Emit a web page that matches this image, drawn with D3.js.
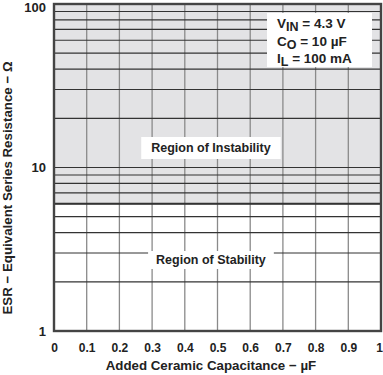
<!DOCTYPE html>
<html>
<head>
<meta charset="utf-8">
<script src="https://cdn.jsdelivr.net/npm/d3@7"></script>
<style>
body{margin:0;background:#fff}
svg text{font-family:"Liberation Sans",Arial,sans-serif;font-weight:bold;fill:#222}
</style>
</head>
<body>
<svg id="chart"></svg>
<script>
// values
let capTicks=[0,0.1,0.2,0.3,0.4,0.5,0.6,0.7,0.8,0.9,1]
let esrTicks=[1,10,100]
let esrGrid=[2,3,4,5,6,7,8,9,20,30,40,50,60,70,80,90]
let boundaryCap=[0,1]
let boundaryEsr=[6,6]
let conditions=[["V","IN"," = 4.3 V"],["C","O"," = 10 µF"],["I","L"," = 100 mA"]]

let width=383
let height=375
let padLeft=54, padRight=381, padTop=4, padBottom=331

let svg=d3.select('#chart').attr('width',width).attr('height',height)

let xScale=d3.scaleLinear().domain([0,1]).range([padLeft,padRight])
let yScale=d3.scaleLog().domain([1,100]).range([padBottom,padTop])

// shaded region of instability
let boundary=boundaryCap.map((c,i)=>[c,boundaryEsr[i]])
svg.append('path')
    .datum(boundary)
    .attr('fill','#e3e3e5')
    .attr('d',d3.area().x(d=>xScale(d[0])).y0(yScale(100)).y1(d=>yScale(d[1])))

// vertical grid
svg.append('g')
    .selectAll('line')
    .data(capTicks.slice(1,-1))
    .enter()
    .append('line')
    .attr('x1',d=>xScale(d)).attr('x2',d=>xScale(d))
    .attr('y1',padTop).attr('y2',padBottom)
    .attr('stroke','#8a8a8a').attr('stroke-width',1.3)

// horizontal grid
svg.append('g')
    .selectAll('line')
    .data(esrGrid.concat([10]))
    .enter()
    .append('line')
    .attr('x1',padLeft).attr('x2',padRight)
    .attr('y1',d=>yScale(d)).attr('y2',d=>yScale(d))
    .attr('stroke','#333').attr('stroke-width',1.2)

// boundary line
svg.append('path')
    .datum(boundary)
    .attr('fill','none')
    .attr('stroke','#333').attr('stroke-width',2.2)
    .attr('d',d3.line().x(d=>xScale(d[0])).y(d=>yScale(d[1])))

// frame
svg.append('rect')
    .attr('x',padLeft).attr('y',padTop)
    .attr('width',padRight-padLeft).attr('height',padBottom-padTop)
    .attr('fill','none').attr('stroke','#444').attr('stroke-width',2.4)

// axes labels
let xAxis=d3.axisBottom(xScale).tickValues(capTicks).tickSize(0).tickPadding(12)
    .tickFormat(d=>d===0||d===1?d3.format('d')(d):d3.format('.1f')(d))
let gx=svg.append('g').attr('transform','translate(0,'+padBottom+')').call(xAxis)
gx.select('.domain').remove()
gx.selectAll('text').style('font-size','12px').attr('fill','#222')
gx.selectAll('.tick').filter(d=>d===1).select('text').attr('dx',-2)

let yAxis=d3.axisLeft(yScale).tickValues(esrTicks).tickSize(0).tickPadding(8)
    .tickFormat(d3.format('d'))
let gy=svg.append('g').attr('transform','translate('+padLeft+',0)').call(yAxis)
gy.select('.domain').remove()
gy.selectAll('text').style('font-size','13px').attr('fill','#222')
gy.selectAll('.tick').filter(d=>d===100).select('text').attr('y',3)

// region labels
let addBoxLabel=(txt,cx,cy,padX,h)=>{
    let t=svg.append('text')
        .attr('x',cx).attr('y',cy)
        .attr('text-anchor','middle')
        .attr('dominant-baseline','central')
        .style('font-size','12.5px')
        .text(txt)
    let w=t.node().getComputedTextLength()
    svg.insert('rect',()=>t.node())
        .attr('x',cx-w/2-padX).attr('y',cy-h/2)
        .attr('width',w+2*padX).attr('height',h)
        .attr('fill','#fff')
}
addBoxLabel('Region of Instability',xScale(0.48),148,10,22)
addBoxLabel('Region of Stability',xScale(0.48),260,8,18)

// conditions box
let box=svg.append('g')
box.append('rect')
    .attr('x',267).attr('y',13)
    .attr('width',105).attr('height',54)
    .attr('fill','#fff')
conditions.forEach((c,i)=>{
    let t=box.append('text')
        .attr('x',277).attr('y',28+i*17.5)
        .style('font-size','13.5px')
    t.append('tspan').text(c[0])
    t.append('tspan').attr('dy',3).style('font-size','12.5px').text(c[1])
    t.append('tspan').attr('dy',-3).text(c[2])
})

// axis titles
svg.append('text')
    .attr('x',xScale(0.48)).attr('y',370)
    .attr('text-anchor','middle')
    .style('font-size','13.3px')
    .text('Added Ceramic Capacitance − µF')

svg.append('text')
    .attr('transform','translate(12,188) rotate(-90)')
    .attr('text-anchor','middle')
    .style('font-size','13.3px')
    .text('ESR − Equivalent Series Resistance − Ω')
</script>
</body>
</html>
